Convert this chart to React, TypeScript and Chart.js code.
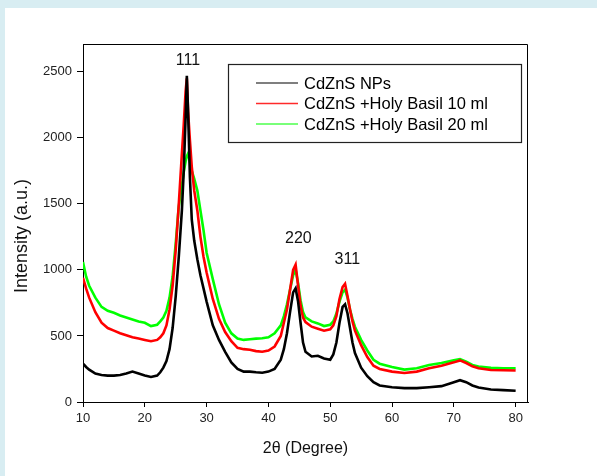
import React, { useEffect, useRef } from 'react';
import { Chart, registerables } from 'chart.js';

Chart.register(...registerables);

// 2θ positions (degrees)
const twoTheta = [
  10, 10.5, 11, 12, 13, 14, 15, 16, 17, 18, 19, 20, 21, 22, 22.5, 23, 23.5, 24, 24.5, 25,
  25.5, 26, 26.3, 26.6, 26.8, 27, 27.3, 27.6, 28, 28.5, 29, 29.5, 30, 31, 32, 33, 34, 35, 36, 37,
  38, 39, 40, 41, 42, 42.5, 43, 43.5, 44, 44.4, 44.8, 45.2, 45.6, 46, 47, 48, 49, 50, 50.5, 51,
  51.5, 52, 52.4, 52.8, 53.2, 53.6, 54, 55, 56, 57, 58, 60, 62, 64, 66, 68, 70, 71, 72, 73,
  74, 76, 78, 80,
];

// CdZnS NPs (black)
const cdznsNPs = [
  290, 265, 245, 215, 205, 200, 200, 205, 215, 230, 215, 200, 190, 200, 225, 260, 310, 400, 560, 800,
  1100, 1450, 1750, 2150, 2470, 2200, 1700, 1380, 1220, 1080, 960, 860, 760, 580, 470, 380, 300, 250, 230, 230,
  225, 222, 230, 250, 320, 400, 520, 680, 830, 860, 760, 600, 450, 380, 345, 350, 330, 320, 360, 450,
  600, 720, 740, 670, 560, 450, 370, 260, 195, 150, 125, 112, 105, 105, 112, 120, 150, 165, 150, 125,
  110, 95, 90, 85,
];

// CdZnS + Holy Basil 10 ml (red)
const basil10ml = [
  940, 860, 790, 680, 600, 560, 540, 520, 505, 490, 480, 470, 460, 470, 490, 520, 580, 700, 880, 1150,
  1500, 1880, 2100, 2350, 2450, 2200, 1980, 1780, 1600, 1450, 1250, 1100, 980, 780, 630, 530, 460, 410, 400, 395,
  385, 380, 390, 420, 500, 600, 700, 850, 1000, 1040, 880, 730, 640, 605, 570, 555, 540, 550, 580, 650,
  780, 870, 895, 800, 700, 610, 540, 430, 340, 275, 250, 230, 220, 230, 255, 275, 300, 315, 295, 270,
  255, 242, 240, 238,
];

// CdZnS + Holy Basil 20 ml (green)
const basil20ml = [
  1060, 950, 880, 790, 720, 690, 675, 655, 640, 625, 610, 600, 575, 585, 610, 640, 690, 790, 950, 1200,
  1480, 1640, 1740, 1820, 1860, 1880, 1820, 1750, 1690, 1600, 1450, 1300, 1130, 930, 740, 600, 520, 480, 470, 475,
  480, 482, 490, 520, 580, 650, 740, 850, 960, 1000, 900, 770, 680, 640, 610, 595, 575, 585, 610, 670,
  760, 830, 850, 790, 700, 630, 570, 470, 390, 320, 290, 265, 245, 255, 280, 295, 315, 325, 305, 280,
  268, 258, 255, 255,
];

const seriesLabels = ['CdZnS NPs', 'CdZnS +Holy Basil 10 ml', 'CdZnS +Holy Basil 20 ml'];
const seriesValues = [cdznsNPs, basil10ml, basil20ml];
const seriesColors = ['#000000', '#ff0000', '#00ff00'];
const legendLineColors = ['#555555', '#ff2a2a', '#4cff4c'];

const yTickValues = [0, 500, 1000, 1500, 2000, 2500];
const xTickValues = [10, 20, 30, 40, 50, 60, 70, 80];

const peakLabels = ['111', '220', '311'];
const peakX = [26.97, 44.84, 52.76];
const peakY = [2585, 1235, 1075];

const xTitle = '2θ (Degree)';
const yTitle = 'Intensity (a.u.)';

const FONT = '"Liberation Sans", Arial, Helvetica, sans-serif';

const decorPlugin = {
  id: 'decor',
  beforeDraw(chart: any) {
    const { ctx, width, height } = chart;
    ctx.save();
    ctx.fillStyle = '#d8edf2';
    ctx.fillRect(0, 0, width, height);
    ctx.fillStyle = '#ffffff';
    ctx.fillRect(5, 8, width - 5, height - 8);
    ctx.restore();
  },
  afterDraw(chart: any) {
    const { ctx, chartArea: a, scales } = chart;
    ctx.save();
    // top and right frame
    ctx.strokeStyle = '#000';
    ctx.lineWidth = 1;
    const t = Math.round(a.top) + 0.5;
    const r = Math.round(a.right) - 0.5;
    ctx.beginPath();
    ctx.moveTo(a.left, t);
    ctx.lineTo(r, t);
    ctx.lineTo(r, a.bottom);
    ctx.stroke();

    // peak labels
    ctx.fillStyle = '#111';
    ctx.font = `16px ${FONT}`;
    ctx.textAlign = 'center';
    ctx.textBaseline = 'middle';
    peakLabels.forEach((lbl, i) => {
      ctx.fillText(lbl, scales.x.getPixelForValue(peakX[i]), scales.y.getPixelForValue(peakY[i]));
    });

    // y axis title
    ctx.save();
    ctx.translate(22, (a.top + a.bottom) / 2 + 13);
    ctx.rotate(-Math.PI / 2);
    ctx.font = `18px ${FONT}`;
    ctx.fillStyle = '#111';
    ctx.fillText(yTitle, 0, 0);
    ctx.restore();

    // legend
    const bx = 228.5, by = 64.5, bw = 293, bh = 78;
    ctx.fillStyle = '#fff';
    ctx.fillRect(bx, by, bw, bh);
    ctx.strokeStyle = '#222';
    ctx.lineWidth = 1.2;
    ctx.strokeRect(bx, by, bw, bh);
    ctx.font = `16.5px ${FONT}`;
    ctx.textAlign = 'left';
    ctx.textBaseline = 'middle';
    seriesLabels.forEach((lbl, i) => {
      const y = 83 + i * 20.5;
      ctx.strokeStyle = legendLineColors[i];
      ctx.lineWidth = 1.5;
      ctx.beginPath();
      ctx.moveTo(256, y);
      ctx.lineTo(298, y);
      ctx.stroke();
      ctx.fillStyle = '#000';
      ctx.fillText(lbl, 304, y + 1);
    });
    ctx.restore();
  },
};

export default function App() {
  const ref = useRef<HTMLCanvasElement | null>(null);

  useEffect(() => {
    if (!ref.current) return;
    const chart = new Chart(ref.current, {
      type: 'line',
      data: {
        datasets: seriesValues.map((vals, i) => ({
          label: seriesLabels[i],
          data: twoTheta.map((x, j) => ({ x, y: vals[j] })),
          borderColor: seriesColors[i],
          backgroundColor: seriesColors[i],
          borderWidth: 2.6,
          pointRadius: 0,
          tension: 0,
          fill: false,
        })),
      },
      options: {
        animation: false,
        responsive: false,
        maintainAspectRatio: false,
        layout: { padding: { left: 0, top: 44, right: 69, bottom: 0 } },
        plugins: {
          legend: { display: false },
          tooltip: { enabled: false },
          title: { display: false },
        },
        scales: {
          x: {
            type: 'linear',
            min: 10,
            max: 82,
            afterFit: (s: any) => {
              s.height = 74;
            },
            afterBuildTicks: (s: any) => {
              s.ticks = xTickValues.map((value) => ({ value }));
            },
            ticks: {
              autoSkip: false,
              maxRotation: 0,
              padding: 4,
              color: '#222',
              font: { family: FONT, size: 13 },
              callback: (v: any) => String(v),
            },
            grid: {
              display: true,
              drawOnChartArea: false,
              drawTicks: true,
              tickLength: 5,
              color: '#000',
            },
            border: { display: true, color: '#000', width: 1 },
            title: {
              display: true,
              text: xTitle,
              color: '#111',
              font: { family: FONT, size: 16 },
              padding: { top: 0, bottom: 18 },
            },
          },
          y: {
            type: 'linear',
            min: 0,
            max: 2710,
            afterFit: (s: any) => {
              s.width = 83;
            },
            afterBuildTicks: (s: any) => {
              s.ticks = yTickValues.map((value) => ({ value }));
            },
            ticks: {
              autoSkip: false,
              padding: 5,
              color: '#222',
              font: { family: FONT, size: 13 },
              callback: (v: any) => String(v),
            },
            grid: {
              display: true,
              drawOnChartArea: false,
              drawTicks: true,
              tickLength: 6,
              color: '#000',
            },
            border: { display: true, color: '#000', width: 1 },
            title: { display: false },
          },
        },
      },
      plugins: [decorPlugin],
    });
    return () => chart.destroy();
  }, []);

  return (
    <div style={{ position: 'absolute', left: 0, top: 0, width: 597, height: 476 }}>
      <canvas ref={ref} width={597} height={476} style={{ display: 'block', width: 597, height: 476 }} />
    </div>
  );
}
